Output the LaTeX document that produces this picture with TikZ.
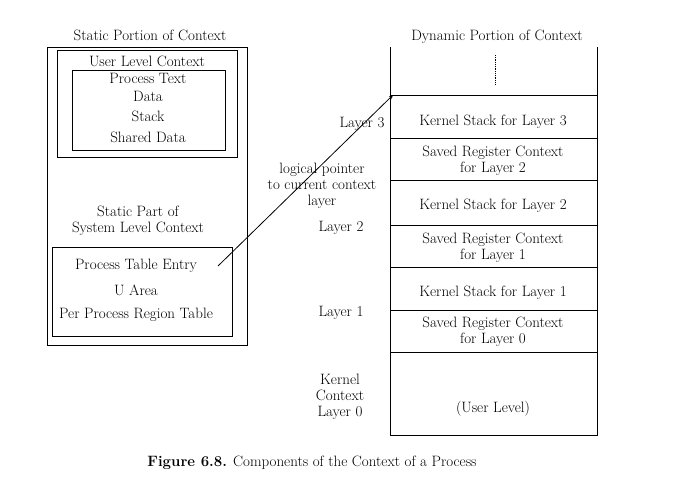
\documentclass[tikz,border=0pt]{standalone}
\usetikzlibrary{positioning}
\begin{document}
\begin{tikzpicture}[x=1pt,y=-1pt,font=\fontsize{15}{16}\selectfont,
	txt/.style={inner sep=0pt, align=center}]
	\useasboundingbox[fill=white] (0,0) rectangle (700,498);
	% static portion
	\node[txt] (st) at (150,35) {Static Portion of Context};
	\draw[thick] (47,47) rectangle (247,345);
	\draw[thick] (57,50) rectangle (237,157);
	\node[txt] (ulc) at (147,61) {User Level Context};
	\draw[thick] (72,70) rectangle (225,150);
	\node[txt] (pt) at (148,78) {Process Text};
	\node[txt] (dt) at (148,96) {Data};
	\node[txt] (sk) at (148,116) {Stack};
	\node[txt] (sd) at (148,137) {Shared Data};
	\node[txt] (sp) at (138,221) {Static Part of\\System Level Context};
	\draw[thick] (52,247) rectangle (232,336);
	\node[txt] (pte) at (136,266) {Process Table Entry};
	\node[txt] (ua) at (136,290) {U Area};
	\node[txt] (pr) at (136,315) {Per Process Region Table};
	\coordinate (pe) at (218,266);
	% dynamic portion
	\node[txt] (dy) at (497,37) {Dynamic Portion of Context};
	\draw[thick] (390,47) -- (390,435) -- (597,435) -- (597,47);
	\draw[thick,densely dotted] (495,55) -- (495,85);
	\foreach \y in {95,138,180,225,267,310,352}
		\draw[thick] (390,\y) -- (597,\y);
	\node[txt] (k3) at (493,122) {Kernel Stack for Layer 3};
	\node[txt] (s2) at (493,161) {Saved Register Context\\for Layer 2};
	\node[txt] (k2) at (493,206) {Kernel Stack for Layer 2};
	\node[txt] (s1) at (493,248) {Saved Register Context\\for Layer 1};
	\node[txt] (k1) at (493,293) {Kernel Stack for Layer 1};
	\node[txt] (s0) at (493,332) {Saved Register Context\\for Layer 0};
	\node[txt] (ul) at (493,409) {(User Level)};
	\coordinate (top) at (393,95);
	% layer labels
	\node[txt] (l3) at (362,124) {Layer 3};
	\node[txt] (lp) at (322,186) {logical pointer\\to current context\\layer};
	\node[txt] (l2) at (341,228) {Layer 2};
	\node[txt] (l1) at (341,313) {Layer 1};
	\node[txt] (l0) at (340,397) {Kernel\\Context\\Layer 0};
	\draw[-stealth, thick] (pe) -- (top);
	\node[txt] (cap) at (312,463) {\textbf{Figure 6.8.} Components of the Context of a Process};
\end{tikzpicture}
\end{document}
